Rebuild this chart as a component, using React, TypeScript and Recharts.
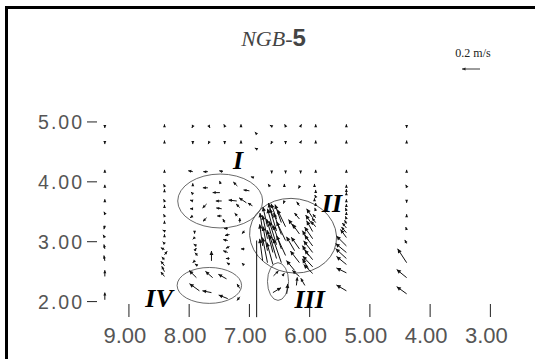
import React from 'react';
import { ScatterChart, Scatter, XAxis, YAxis, ReferenceLine, ReferenceArea, ReferenceDot } from 'recharts';

// tick labels
const xTicks = [9, 8, 7, 6, 5, 4, 3];
const yTicks = [2, 3, 4, 5];

// arrows: [x, y, u, v]  (u, v in m/s, u > 0 points towards larger x)
const topRows = [
  [9.4, 4.93, 0, -0.02], [8.41, 4.93, 0, 0.02], [7.94, 4.93, 0.01, -0.02], [7.67, 4.93, -0.01, -0.02],
  [7.41, 4.93, 0.01, 0.02], [7.14, 4.93, 0, 0.02], [6.63, 4.93, 0.02, 0.01], [6.4, 4.93, 0.01, 0.02],
  [6.15, 4.93, -0.01, 0.02], [5.9, 4.93, 0, 0.02], [5.39, 4.93, 0, 0.02], [4.39, 4.93, 0, -0.02],
  [9.4, 4.66, 0, -0.02], [8.41, 4.66, 0, 0.02], [7.94, 4.66, 0, -0.02], [7.67, 4.66, 0.01, -0.02],
  [7.41, 4.66, 0, -0.02], [7.14, 4.66, 0, 0.02], [6.63, 4.66, 0.01, -0.02], [6.4, 4.66, 0, -0.02],
  [6.15, 4.66, -0.01, 0.02], [5.9, 4.66, 0, 0.02], [5.39, 4.66, 0, 0.02], [4.39, 4.66, 0, 0.02],
  [6.88, 4.8, 0.02, 0.02], [6.88, 4.55, 0.02, 0.01],
];

const midRows = [
  [7.94, 4.17, 0.05, 0.01], [7.69, 4.17, 0.05, 0], [7.44, 4.17, 0.04, 0.01], [6.93, 4.07, 0.03, 0.01],
  [6.63, 4.17, 0, -0.02], [6.4, 4.17, 0, -0.02], [6.15, 4.17, 0, -0.02], [5.9, 4.17, 0, 0.02],
  [5.39, 4.17, 0, 0.02], [4.39, 4.17, 0, 0.02],
  [6.66, 3.92, 0.02, 0.03], [6.42, 3.92, 0, 0.03], [6.17, 3.92, 0.01, -0.02], [5.92, 3.92, 0, 0.03],
  [5.39, 3.92, 0, 0.02], [4.39, 3.92, 0.01, 0.02],
  [6.42, 3.68, 0.01, -0.03], [5.92, 3.68, 0, 0.03], [5.39, 3.68, 0, 0.02], [4.39, 3.68, 0, -0.02],
];

const westColumns = [
  [9.4, 4.17, 0, 0.02], [9.4, 3.92, 0, 0.02], [9.4, 3.68, 0, 0.02], [9.4, 3.47, 0.01, 0.02],
  [9.4, 3.27, 0.01, -0.04], [9.4, 3.07, 0.02, 0.03], [9.4, 2.88, 0.01, 0.05], [9.4, 2.68, 0.01, 0.06],
  [9.4, 2.42, 0, 0.07], [9.4, 2.03, 0, 0.08],
  [8.41, 4.17, 0, 0.02], [8.41, 3.93, 0.01, 0.02], [8.41, 3.83, 0, 0.03], [8.41, 3.68, 0.01, 0.02],
  [8.41, 3.57, 0, 0.03], [8.41, 3.43, 0.01, 0.02], [8.41, 3.32, 0, 0.02], [8.41, 3.18, 0.02, 0.01],
  [8.41, 3.08, 0, 0.03], [8.41, 2.97, 0.02, 0.02], [8.41, 2.87, 0.04, 0.02], [8.41, 2.78, -0.03, 0.04],
  [8.41, 2.7, 0.03, 0.03], [8.41, 2.6, 0.04, 0.05], [8.41, 2.5, 0.03, 0.06], [8.41, 2.42, 0.04, 0.05],
];

const circleI = [
  [7.94, 3.93, 0, 0.03], [7.69, 3.9, 0.055, 0], [7.48, 3.97, 0.01, 0.03], [7.2, 3.93, 0.045, 0.045],
  [7.0, 3.85, 0.065, 0.01], [7.94, 3.8, 0.02, 0.02], [7.49, 3.82, 0.08, 0], [7.94, 3.68, 0.03, 0.01],
  [7.71, 3.63, 0.045, -0.045], [7.46, 3.68, 0.065, 0], [7.21, 3.68, 0.09, 0.01], [7.05, 3.65, 0.08, 0.055],
  [7.94, 3.55, 0.03, 0], [7.46, 3.55, 0.06, 0.01], [7.16, 3.57, 0.04, 0.04], [7.94, 3.43, 0.03, -0.02],
  [7.71, 3.4, 0.04, -0.04], [7.46, 3.43, 0.05, 0], [7.2, 3.43, 0.03, 0.03], [7.41, 3.32, 0.02, 0.04],
  [7.16, 3.32, 0, 0.05], [6.95, 3.6, 0.05, 0.03],
];

const betweenIandIV = [
  [7.91, 3.18, 0, -0.03], [7.91, 3.07, 0.02, -0.02], [7.88, 2.93, 0.03, 0.02], [7.91, 2.85, -0.02, 0.03],
  [7.86, 2.77, 0.03, 0.03], [7.91, 2.68, 0.02, -0.02], [7.86, 2.6, 0.03, 0.02], [7.88, 2.4, 0.08, 0.08],
  [7.63, 2.68, 0, 0.11], [7.36, 3.22, 0.04, 0], [7.33, 3.12, 0.05, -0.01], [7.36, 3.02, 0.05, 0.01],
  [7.33, 2.92, 0.04, -0.02], [7.36, 2.82, 0.05, 0.02], [7.33, 2.72, 0.04, 0], [7.33, 2.62, 0.03, 0.02],
  [7.08, 3.18, 0.03, -0.03], [7.08, 2.88, 0.04, 0], [7.11, 2.63, 0.01, 0.01],
];

const circleIV = [
  [7.83, 2.18, 0.11, 0.08], [7.63, 2.15, 0.1, 0.02], [7.36, 2.05, 0.1, 0.04], [7.61, 2.4, 0.08, 0.07],
  [7.38, 2.38, 0.09, 0.05], [7.16, 2.08, 0.03, -0.04], [7.16, 2.22, 0.03, 0.05],
];

const circleII = [
  [6.78, 2.68, 0.033, 0.245], [6.78, 2.93, 0.033, 0.24], [6.78, 3.18, 0.03, 0.2],
  [6.7, 2.65, 0.055, 0.28], [6.7, 2.85, 0.05, 0.27], [6.7, 3.05, 0.055, 0.26], [6.7, 3.25, 0.05, 0.22],
  [6.61, 2.62, 0.067, 0.245], [6.61, 2.82, 0.065, 0.25], [6.61, 3.02, 0.07, 0.24], [6.61, 3.22, 0.06, 0.22], [6.61, 3.42, 0.05, 0.15],
  [6.55, 2.72, 0.078, 0.265], [6.55, 2.95, 0.08, 0.26], [6.55, 3.18, 0.075, 0.25], [6.55, 3.38, 0.06, 0.17],
  [6.47, 2.65, 0.09, 0.265], [6.47, 2.88, 0.09, 0.26], [6.47, 3.12, 0.085, 0.24], [6.47, 3.32, 0.07, 0.2],
  [6.4, 2.77, 0.1, 0.22], [6.4, 3.02, 0.1, 0.21], [6.4, 3.25, 0.09, 0.19],
  [6.25, 3.22, 0.067, 0.1], [6.25, 2.85, 0.09, 0.155], [6.25, 2.52, 0.09, 0.11],
  [6.17, 3.6, 0.03, 0.045], [6.17, 3.38, 0.055, 0.067], [6.17, 3.13, 0.078, 0.11], [6.17, 2.88, 0.09, 0.13],
  [6.17, 2.65, 0.1, 0.13], [6.17, 2.42, 0.078, 0.067],
  [6.02, 3.02, 0.067, 0.11], [6.02, 2.77, 0.067, 0.11], [6.02, 2.55, 0.067, 0.11],
  [5.95, 3.4, 0.067, 0.1], [5.95, 3.28, 0.078, 0.11], [5.95, 3.17, 0.067, 0.12], [5.95, 3.05, 0.09, 0.13],
  [5.95, 2.93, 0.09, 0.12], [5.95, 2.82, 0.1, 0.13], [5.95, 2.7, 0.09, 0.11], [5.95, 2.58, 0.11, 0.12],
  [5.95, 2.47, 0.1, 0.1],
];

const eastColumns = [
  [5.9, 3.82, 0, 0.03], [5.9, 3.75, 0.01, 0.02], [5.9, 3.6, 0, 0.03], [5.9, 3.52, 0.01, 0.03],
  [5.9, 3.4, 0.03, 0.04], [5.9, 3.32, 0.04, 0.05], [5.9, 3.25, 0.05, 0.06],
  [5.39, 3.85, 0, 0.02], [5.39, 3.78, 0, 0.03], [5.39, 3.6, 0, 0.02], [5.39, 3.52, 0.01, 0.03],
  [5.39, 3.45, 0, 0.03], [5.39, 3.38, 0.01, 0.03], [5.39, 3.3, 0.02, 0.04],
  [5.39, 3.23, 0.045, 0.055], [5.39, 3.15, 0.055, 0.065], [5.39, 3.07, 0.065, 0.09], [5.39, 2.93, 0.11, 0.11],
  [5.39, 2.82, 0.12, 0.1], [5.39, 2.72, 0.12, 0.11], [5.39, 2.62, 0.11, 0.09], [5.39, 2.48, 0.11, 0.055],
  [5.39, 2.18, 0.11, 0.065],
  [4.39, 3.43, 0, 0.02], [4.39, 3.2, 0.01, 0.03], [4.39, 2.97, 0.02, 0.04], [4.39, 2.65, 0.1, 0.155],
  [4.39, 2.4, 0.11, 0.09], [4.39, 2.13, 0.11, 0.08],
];

const circleIII = [
  [6.61, 2.15, -0.09, 0.055], [6.38, 2.13, -0.01, 0.11], [6.6, 2.43, -0.055, 0.055], [6.45, 2.43, -0.02, 0.03],
  [6.22, 2.27, -0.01, 0.09], [6.08, 2.27, 0.045, 0.08],
];

// ellipses: [x1, x2, y1, y2, tilt in degrees]
const ellipses = [
  [8.19, 6.78, 4.13, 3.23, 0],
  [7.0, 5.55, 3.72, 2.48, 10],
  [6.7, 6.35, 2.65, 2.02, 0],
  [8.2, 7.13, 2.57, 1.97, 0],
];

const zoneLabels = [
  { name: 'I', x: 7.19, y: 4.35 },
  { name: 'II', x: 5.63, y: 3.63 },
  { name: 'III', x: 6.0, y: 2.03 },
  { name: 'IV', x: 8.5, y: 2.05 },
];

const ARROW_SCALE = 1.5; // axis units per m/s

const allArrows = [
  ...topRows, ...midRows, ...westColumns, ...circleI, ...betweenIandIV,
  ...circleIV, ...circleII, ...eastColumns, ...circleIII,
];
const tails = allArrows.map(([x, y]) => ({ x, y }));

const fmt = (v: number) => v.toFixed(2);

const Arrow = (p: any) => {
  const { x1, y1, x2, y2 } = p;
  const dx = x2 - x1;
  const dy = y2 - y1;
  const len = Math.hypot(dx, dy);
  if (!len) return <circle cx={x1} cy={y1} r={1.2} fill="#111" />;
  const ux = dx / len;
  const uy = dy / len;
  const h = Math.min(4.2, Math.max(3, len * 0.4));
  const w = h * 0.5;
  const bx = x2 - ux * h;
  const by = y2 - uy * h;
  const pts = `${x2},${y2} ${bx - uy * w},${by + ux * w} ${bx + uy * w},${by - ux * w}`;
  return (
    <g>
      <line x1={x1} y1={y1} x2={x2} y2={y2} stroke="#111" strokeWidth={1} />
      <polygon points={pts} fill="#111" />
    </g>
  );
};

const Ellipse = (tilt: number) => (p: any) => {
  const cx = p.x + p.width / 2;
  const cy = p.y + p.height / 2;
  return (
    <ellipse cx={cx} cy={cy} rx={Math.abs(p.width) / 2} ry={Math.abs(p.height) / 2}
      fill="none" stroke="#444" strokeWidth={0.8} transform={`rotate(${tilt} ${cx} ${cy})`} />
  );
};

const ZoneText = (name: string) => (p: any) => (
  <text x={p.cx} y={p.cy} textAnchor="middle" dominantBaseline="central"
    fontFamily="'Liberation Serif', serif" fontStyle="italic" fontWeight="bold" fontSize={26} fill="#000">
    {name}
  </text>
);

export default function App() {
  return (
    <div style={{ position: 'absolute', left: 0, top: 0, width: 535, height: 359, background: '#fff', overflow: 'hidden' }}>
      <div style={{ position: 'absolute', left: 5, top: 6, width: 540, height: 360, borderLeft: '3px solid #000', borderTop: '3px solid #000' }} />
      <ScatterChart width={535} height={359} margin={{ top: 92, right: 14.5, bottom: 10, left: 37 }}>
        <XAxis type="number" dataKey="x" domain={[2.5, 9.53]} reversed allowDataOverflow
          ticks={xTicks} interval={0} tickFormatter={fmt} axisLine={false}
          tickLine={{ stroke: '#222' }} tickSize={13} tickMargin={10} height={45}
          tick={{ fontSize: 22, fill: '#555', fontFamily: "'Liberation Sans', Arial, sans-serif", dx: -4 }} />
        <YAxis type="number" dataKey="y" domain={[1.96, 5.5]} allowDataOverflow
          ticks={yTicks} interval={0} tickFormatter={fmt} axisLine={false}
          tickLine={{ stroke: '#222' }} tickSize={10} tickMargin={3} width={60}
          tick={{ fontSize: 19.5, fill: '#555', fontFamily: "'Liberation Sans', Arial, sans-serif", letterSpacing: 2 }} />
        <Scatter data={tails} isAnimationActive={false} shape={() => <g />} />
        {ellipses.map(([x1, x2, y1, y2, tilt], i) => (
          <ReferenceArea key={`e${i}`} x1={x1} x2={x2} y1={y1} y2={y2} ifOverflow="visible" shape={Ellipse(tilt)} />
        ))}
        <ReferenceLine segment={[{ x: 6.88, y: 3.02 }, { x: 6.88, y: 1.74 }]} ifOverflow="visible" stroke="#111" strokeWidth={1} />
        {allArrows.map(([x, y, u, v], i) => (
          <ReferenceLine key={`a${i}`} ifOverflow="visible" shape={Arrow}
            segment={[{ x, y }, { x: x + u * ARROW_SCALE, y: y + v * ARROW_SCALE }]} />
        ))}
        {zoneLabels.map((z) => (
          <ReferenceDot key={z.name} x={z.x} y={z.y} r={0} ifOverflow="visible" shape={ZoneText(z.name)} />
        ))}
      </ScatterChart>
      <svg width={535} height={359} style={{ position: 'absolute', left: 0, top: 0, pointerEvents: 'none' }}>
        <text x={273.5} y={46} textAnchor="middle" fill="#444">
          <tspan fontFamily="'Liberation Serif', serif" fontStyle="italic" fontSize={22}>NGB-</tspan>
          <tspan fontFamily="'Liberation Sans', sans-serif" fontWeight="bold" fontSize={24}>5</tspan>
        </text>
        <text x={473} y={57} textAnchor="middle" fontFamily="'Liberation Serif', serif" fontSize={12} fill="#222">0.2 m/s</text>
        <line x1={480} y1={69} x2={462} y2={69} stroke="#222" strokeWidth={0.9} />
        <polygon points="462,69 465.5,67.6 465.5,70.4" fill="#222" />
      </svg>
    </div>
  );
}
